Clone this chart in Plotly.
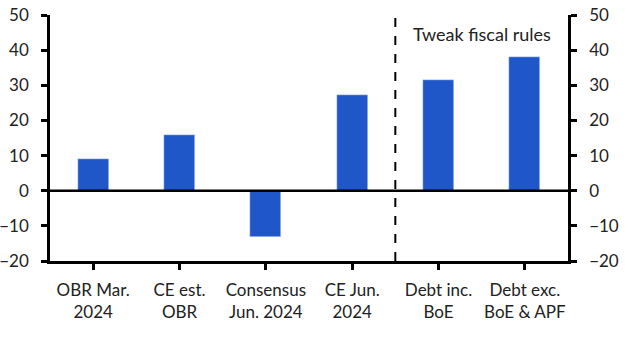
import plotly.graph_objects as go

categories = ["OBR Mar.<br>2024", "CE est.<br>OBR", "Consensus<br>Jun. 2024", "CE Jun.<br>2024",
              "Debt inc.<br>BoE", "Debt exc.<br>BoE & APF"]
values = [9.0, 15.9, -13.1, 27.3, 31.5, 38.1]
y_ticks = [-20, -10, 0, 10, 20, 30, 40, 50]
annotation_text = "Tweak fiscal rules"

FONT = "Lato, Open Sans, sans-serif"
FS = 17
x_idx = list(range(len(categories)))

fig = go.Figure()
fig.add_trace(go.Bar(x=x_idx, y=values, marker_color="#1f57c9", width=0.36,
                     showlegend=False, hoverinfo="skip"))
fig.add_trace(go.Scatter(x=x_idx, y=values, yaxis="y2", mode="markers",
                         marker=dict(opacity=0), showlegend=False, hoverinfo="skip"))

fig.add_shape(type="line", xref="x", yref="y", x0=3.5, x1=3.5, y0=-20, y1=50,
              line=dict(color="black", width=2, dash="dash"))
fig.add_shape(type="line", xref="x", yref="y", x0=-0.5, x1=5.5, y0=0, y1=0,
              line=dict(color="black", width=2.5))

fig.add_annotation(x=4.5, y=44.5, xref="x", yref="y", text=annotation_text,
                   showarrow=False, font=dict(size=18, color="#222", family=FONT))

yax = dict(range=[-20, 50], tickvals=y_ticks, showgrid=False, zeroline=False,
           showline=True, linecolor="black", linewidth=2.5, ticks="outside",
           ticklen=6, tickwidth=2.5, tickcolor="black", automargin=False,
           ticklabelstandoff=9,
           tickfont=dict(size=FS, color="#222", family=FONT), fixedrange=True)

fig.update_layout(
    width=629, height=355,
    margin=dict(l=50, r=61, t=15, b=94),
    plot_bgcolor="white", paper_bgcolor="white",
    xaxis=dict(range=[-0.5, 5.5], tickmode="array", tickvals=x_idx, ticktext=categories,
               showgrid=False, zeroline=False, showline=True, linecolor="black",
               linewidth=2.5, ticks="outside", tickson="boundaries", ticklen=6,
               tickwidth=2.5, tickcolor="black", automargin=False,
               ticklabelstandoff=6, fixedrange=True,
               tickfont=dict(size=FS, color="#222", family=FONT)),
    yaxis=dict(**yax, side="left"),
    yaxis2=dict(**yax, side="right", overlaying="y"),
    bargap=0,
)

# remove the browser's default 8px body margin so the figure fills the window
fig.write_html("out.html", config={"displayModeBar": False},
               post_script="document.body.style.margin='0';")
